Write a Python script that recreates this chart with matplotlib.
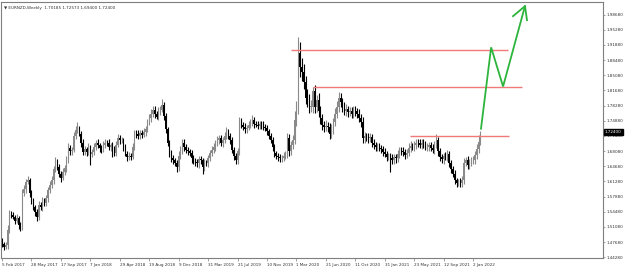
import matplotlib
matplotlib.use("Agg")
import matplotlib.pyplot as plt
import matplotlib.transforms as mtransforms
import numpy as np

# ---- data (weekly EURNZD, prices in 1e-4 units) ----
closes = [
    14720, 14660, 14700, 15040, 15420, 15380, 15330, 15250, 15300, 15150,
    15100, 15870, 15950, 16120, 16160, 15870, 15700, 15550, 15450, 15330,
    15600, 15550, 15700, 15640, 15750, 15940, 16050, 16160, 16400, 16570,
    16460, 16300, 16210, 16350, 16430, 16600, 16880, 16800, 16840, 17150,
    17290, 17330, 17200, 17000, 16790, 16850, 16790, 16900, 16750, 16790,
    16900, 17000, 16950, 16880, 16840, 16950, 17000, 16990, 16900, 16950,
    16850, 16770, 16950, 17110, 17050, 17060, 16900, 16750, 16680, 16700,
    16680, 16900, 17220, 17200, 17150, 17220, 17180, 17230, 17300, 17450,
    17550, 17650, 17740, 17650, 17580, 17700, 17740, 17850, 17600, 17300,
    17000, 16770, 16650, 16610, 16550, 16450, 16700, 16840, 17000, 16900,
    16840, 16800, 16770, 16650, 16600, 16560, 16540, 16620, 16600, 16450,
    16550, 16540, 16650, 16770, 16840, 16900, 16990, 17050, 17100, 17000,
    17060, 17150, 17240, 17150, 17060, 16840, 16700, 16610, 16800, 17450,
    17400, 17350, 17300, 17330, 17400, 17450, 17500, 17420, 17400, 17380,
    17420, 17400, 17350, 17330, 17250, 17150, 17060, 16900, 16770, 16700,
    16680, 16650, 16660, 16700, 16750, 17100, 16800, 16950, 17060, 17500,
    17780, 19000, 18700, 18570, 18350, 18000, 17950, 17800, 17800, 18150,
    17800, 17950, 17700, 17550, 17400, 17350, 17380, 17350, 17200, 17300,
    17450, 17650, 17800, 18000, 17900, 17800, 17700, 17750, 17680, 17700,
    17650, 17720, 17700, 17650, 17550, 17450, 17100, 17150, 17130, 17100,
    17130, 17000, 16950, 16900, 16920, 16880, 16850, 16790, 16750, 16680,
    16700, 16660, 16610, 16680, 16650, 16750, 16830, 16800, 16790, 16720,
    16770, 16880, 16920, 16900, 16950, 17000, 16980, 16950, 17000, 16950,
    16900, 16910, 16950, 16880, 16840, 16950, 17060, 16800, 16680, 16620,
    16700, 16680, 16750, 16550, 16400, 16300, 16150, 16100, 16120, 16090,
    16150, 16550, 16600, 16500, 16550, 16600, 16610, 16720, 16850, 17018,
    17240,
]
first_open = 14800
up_wick = [
    60, 40, 80, 120, 60, 50, 70, 40, 90, 50,
    60, 80, 100, 70, 90, 40, 60, 50, 40, 70,
    80, 60, 90, 50, 70, 60, 80, 90, 70, 110,
    50, 60, 70, 80, 60, 90, 120, 60, 70, 80,
    90, 130, 50, 60, 70, 80, 60, 90, 50, 70,
    80, 60, 70, 50, 60, 90, 70, 60, 80, 50,
    60, 70, 90, 80, 60, 70, 50, 60, 70, 80,
    60, 90, 70, 60, 80, 70, 60, 90, 70, 80,
    90, 100, 80, 70, 60, 90, 80, 120, 60, 70,
    50, 60, 70, 60, 50, 60, 110, 80, 90, 70,
    60, 70, 50, 60, 70, 50, 60, 80, 70, 60,
    70, 60, 80, 70, 90, 80, 70, 90, 80, 60,
    70, 90, 100, 60, 70, 60, 50, 60, 80, 120,
    90, 70, 80, 60, 90, 80, 110, 70, 60, 80,
    70, 60, 80, 60, 70, 50, 60, 70, 60, 50,
    60, 70, 60, 80, 70, 120, 90, 80, 100, 200,
    150, 360, 250, 200, 180, 150, 200, 140, 160, 100,
    150, 120, 160, 110, 100, 90, 120, 80, 90, 110,
    100, 130, 140, 130, 110, 90, 100, 120, 80, 100,
    90, 110, 90, 80, 100, 90, 120, 80, 70, 90,
    80, 70, 90, 60, 70, 80, 60, 70, 80, 60,
    70, 60, 80, 70, 60, 90, 70, 80, 90, 70,
    80, 100, 110, 80, 90, 80, 70, 90, 80, 70,
    80, 90, 70, 60, 80, 90, 130, 70, 80, 60,
    70, 90, 80, 70, 60, 70, 80, 60, 70, 80,
    90, 100, 80, 90, 70, 80, 90, 100, 120, 155,
    17,
]
down_wick = [
    70, 60, 50, 90, 60, 80, 50, 70, 60, 90,
    80, 60, 70, 90, 60, 80, 70, 60, 90, 80,
    70, 60, 80, 70, 60, 80, 70, 60, 90, 60,
    80, 70, 90, 60, 70, 80, 60, 90, 70, 60,
    80, 70, 60, 90, 80, 70, 90, 60, 250, 80,
    70, 60, 80, 90, 70, 60, 80, 70, 60, 90,
    180, 80, 70, 60, 90, 70, 80, 60, 90, 70,
    80, 60, 70, 90, 60, 80, 70, 60, 90, 70,
    60, 80, 70, 90, 60, 70, 80, 60, 90, 80,
    70, 90, 80, 100, 70, 120, 80, 70, 90, 80,
    70, 90, 80, 100, 70, 90, 80, 110, 70, 150,
    80, 70, 90, 60, 80, 70, 90, 60, 80, 70,
    90, 60, 80, 70, 90, 80, 90, 100, 80, 90,
    80, 70, 90, 80, 60, 70, 80, 90, 60, 80,
    70, 90, 80, 70, 90, 80, 70, 90, 100, 80,
    90, 80, 90, 70, 80, 90, 100, 80, 90, 100,
    120, 150, 220, 180, 160, 140, 150, 130, 120, 140,
    130, 110, 120, 130, 110, 120, 100, 110, 120, 100,
    110, 90, 100, 120, 100, 110, 90, 100, 110, 90,
    100, 90, 110, 100, 90, 100, 110, 100, 90, 100,
    80, 90, 100, 80, 90, 80, 90, 100, 80, 90,
    80, 320, 90, 80, 100, 80, 90, 80, 90, 80,
    70, 80, 90, 70, 80, 90, 80, 70, 90, 80,
    70, 80, 90, 70, 80, 90, 80, 100, 90, 80,
    90, 80, 90, 100, 90, 80, 90, 100, 80, 90,
    80, 90, 80, 100, 90, 80, 70, 80, 90, 80,
    78,
]

# horizontal levels (start week, end week, price)
level_start = [157.1, 169.0, 221.7]
level_end = [275.0, 282.6, 275.5]
level_price = [1.9073, 1.8249, 1.7137]

# projected path (week, price)
path_week = [260.3, 265.8, 272.3, 284.2]
path_price = [1.7310, 1.9134, 1.8256, 2.0057]
head_week = [277.7, 284.2, 285.3]
head_price = [1.9832, 2.0057, 1.9742]

price_ticks = [1.44280, 1.47680, 1.51080, 1.54480, 1.57880, 1.61280, 1.64680,
               1.68080, 1.71480, 1.74880, 1.78280, 1.81680, 1.85080, 1.88480,
               1.91880, 1.95280, 1.98680]
date_tick_weeks = [0, 16, 32, 48, 64, 80, 96, 112, 128, 144, 160, 176, 192,
                   208, 224, 240, 256]
date_labels = ["5 Feb 2017", "28 May 2017", "17 Sep 2017", "7 Jan 2018",
               "29 Apr 2018", "19 Aug 2018", "9 Dec 2018", "31 Mar 2019",
               "21 Jul 2019", "10 Nov 2019", "1 Mar 2020", "21 Jun 2020",
               "11 Oct 2020", "31 Jan 2021", "23 May 2021", "12 Sep 2021",
               "2 Jan 2022"]
title = "\u25bc EURNZD,Weekly  1.70185 1.72573 1.69400 1.72400"
last_price = 1.72400

# ---- build OHLC ----
c = np.array(closes) / 1e4
o = np.concatenate([[first_open / 1e4], c[:-1]])
hi = np.maximum(o, c) + np.array(up_wick) / 1e4
lo = np.minimum(o, c) - np.array(down_wick) / 1e4
x = np.arange(len(c))

W, H = 625, 269
fig = plt.figure(figsize=(W / 100, H / 100), dpi=100)
ax = fig.add_axes([1.5 / W, (H - 258) / H, (603 - 1.5) / W, (258 - 2) / H])

bull = c >= o
cols = np.where(bull, "#8a8a8a", "#000000")
ax.vlines(x, lo, hi, colors=cols, linewidth=0.8)
body_h = np.maximum(np.abs(c - o), 0.0008)
ax.bar(x, body_h, bottom=np.minimum(o, c), width=0.75, color=cols, linewidth=0)

for s, e, p in zip(level_start, level_end, level_price):
    ax.plot([s, e], [p, p], color="#f07a7a", linewidth=1.0, solid_capstyle="butt")

ax.plot(path_week, path_price, color="#2db43c", linewidth=1.3, solid_joinstyle="miter")
ax.plot(head_week, head_price, color="#2db43c", linewidth=1.3)

ax.set_xlim(-0.27, 326.6)
ax.set_ylim(1.4412, 2.0150)

for sp in ax.spines.values():
    sp.set_color("#7f7f7f")
    sp.set_linewidth(0.8)

FS = 3.0
ax.yaxis.tick_right()
ax.set_yticks(price_ticks)
ax.set_yticklabels(["%.5f" % v for v in price_ticks])
ax.tick_params(axis="y", direction="out", length=1.5, width=0.5, colors="#7f7f7f",
               labelsize=FS, labelcolor="#333333", pad=1.0)
ax.set_xticks(date_tick_weeks)
ax.set_xticklabels(date_labels)
ax.tick_params(axis="x", direction="out", length=2, width=0.5, colors="#7f7f7f",
               labelsize=FS, labelcolor="#333333", pad=1.5)
for lbl in ax.get_xticklabels():
    lbl.set_ha("left")

trans = mtransforms.blended_transform_factory(ax.transAxes, ax.transData)
ax.text(1.003, last_price, "%.5f" % last_price, transform=trans, fontsize=FS,
        color="white", va="center", ha="left",
        bbox=dict(boxstyle="square,pad=0.25", facecolor="black", edgecolor="black"))

ax.text(0.004, 0.985, title, transform=ax.transAxes, fontsize=FS,
        color="#333333", va="top", ha="left")

fig.savefig("out.png", dpi=100)
